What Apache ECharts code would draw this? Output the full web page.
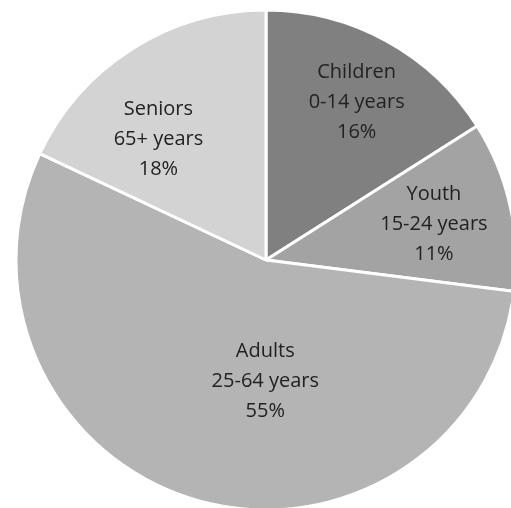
<!DOCTYPE html>
<html>
<head>
<meta charset="utf-8">
<script src="https://cdn.jsdelivr.net/npm/echarts@6/dist/echarts.min.js"></script>
<style>html,body{margin:0;padding:0;background:#fff;}#c{width:511px;height:508px;}</style>
</head>
<body>
<div id="c"></div>
<script>
var categories = ['Children', 'Youth', 'Adults', 'Seniors'];
var ageRanges = ['0-14 years', '15-24 years', '25-64 years', '65+ years'];
var values = [16, 11, 55, 18];
var colors = ['#808080', '#a3a3a3', '#b4b4b4', '#d3d3d3'];
var labelShift = [[29, -46], [43, -8], [35, -2], [-39, -13]];

var chart = echarts.init(document.getElementById('c'));
chart.setOption({
  animation: false,
  series: [{
    type: 'pie',
    center: [266, 260],
    radius: [0, 250],
    startAngle: 90,
    clockwise: true,
    data: categories.map(function (c, i) {
      return { name: c, value: values[i], itemStyle: { color: colors[i] } };
    }),
    itemStyle: { borderColor: '#ffffff', borderWidth: 3 },
    label: {
      position: 'inside',
      formatter: function (p) { return p.name + '\n' + ageRanges[p.dataIndex] + '\n' + p.value + '%'; },
      color: '#222222',
      fontFamily: 'Open Sans',
      fontSize: 20,
      lineHeight: 30,
      align: 'center'
    },
    labelLine: { show: false },
    labelLayout: function (p) {
      var s = labelShift[p.dataIndex];
      return { dx: s[0], dy: s[1] };
    },
    emphasis: { disabled: true }
  }]
});
</script>
</body>
</html>
